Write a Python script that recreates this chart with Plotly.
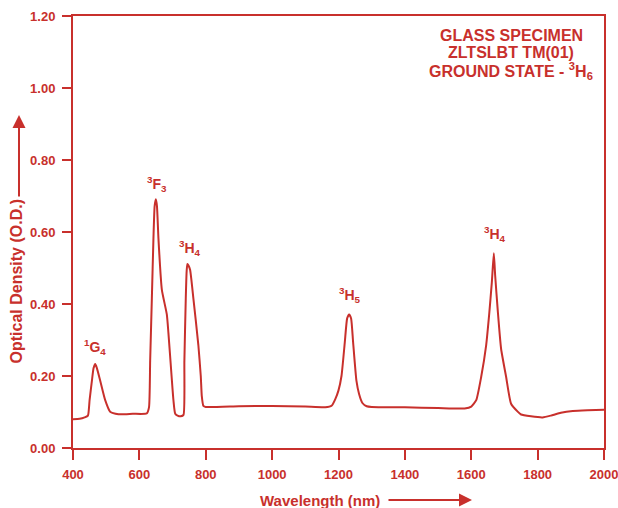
import plotly.graph_objects as go

# Data
wavelength = [400, 420, 435, 445, 450, 457, 462, 467, 472, 482, 497, 512, 537, 580, 622, 629,
              632.5, 637.6, 642.4, 646, 649.6, 653, 657.4, 667.7, 682.7, 687.5, 697, 702.6, 708, 715, 725, 733,
              735.6, 739.8, 742.5, 744.7, 748, 752.8, 762.8, 777.7, 785, 788, 793, 800,
              900, 1000, 1100, 1160, 1180, 1190, 1200, 1209, 1219, 1226, 1232, 1238, 1244, 1254, 1262, 1272, 1285, 1300,
              1400, 1500, 1580, 1600, 1615, 1630, 1645, 1654, 1662, 1668, 1672, 1680, 1690, 1705, 1720, 1740, 1750,
              1780, 1815, 1840, 1870, 1906, 1950, 2000]
optical_density = [0.080, 0.081, 0.085, 0.090, 0.133, 0.187, 0.222, 0.233, 0.222, 0.187, 0.133, 0.101, 0.094, 0.095, 0.096, 0.113,
                   0.242, 0.415, 0.583, 0.672, 0.691, 0.672, 0.583, 0.440, 0.371, 0.320, 0.200, 0.133, 0.095, 0.090, 0.088, 0.092,
                   0.242, 0.415, 0.492, 0.511, 0.507, 0.495, 0.415, 0.286, 0.200, 0.145, 0.117, 0.114,
                   0.116, 0.117, 0.115, 0.113, 0.118, 0.135, 0.160, 0.200, 0.294, 0.360, 0.371, 0.360, 0.294, 0.187, 0.150, 0.125, 0.116, 0.114,
                   0.113, 0.111, 0.110, 0.115, 0.133, 0.198, 0.286, 0.371, 0.460, 0.541, 0.480, 0.380, 0.275, 0.198, 0.123, 0.101, 0.093,
                   0.088, 0.085, 0.090, 0.098, 0.103, 0.105, 0.106]

peak_labels = ["<sup>1</sup>G<sub>4</sub>", "<sup>3</sup>F<sub>3</sub>", "<sup>3</sup>H<sub>4</sub>",
               "<sup>3</sup>H<sub>5</sub>", "<sup>3</sup>H<sub>4</sub>"]
peak_x = [467, 649.6, 744.7, 1232, 1668]
peak_y = [0.233, 0.691, 0.511, 0.371, 0.541]

x_ticks = [400, 600, 800, 1000, 1200, 1400, 1600, 1800, 2000]
y_ticks = [0.0, 0.2, 0.4, 0.6, 0.8, 1.0, 1.2]

RED = "#c8302c"
FONT = "Liberation Sans"

fig = go.Figure()
fig.add_trace(go.Scatter(x=wavelength, y=optical_density, mode="lines",
                         line=dict(color=RED, width=2, shape="spline", smoothing=0.5),
                         showlegend=False, hoverinfo="skip"))

label_shift = [17, 15, 16, 19, 19]
label_xshift = [0, 1, 3, 1, 1]
for t, px, py, ys, xs in zip(peak_labels, peak_x, peak_y, label_shift, label_xshift):
    fig.add_annotation(x=px, y=py, text=t, showarrow=False, yanchor="middle", xanchor="center",
                       yshift=ys, xshift=xs,
                       font=dict(family=FONT, size=14, color=RED, weight="bold"))

# Specimen text block
for txt, yy in [("GLASS SPECIMEN", 0.9549), ("ZLTSLBT TM(01)", 0.9155),
                ("GROUND STATE - <sup>3</sup>H<sub>6</sub>", 0.8727)]:
    fig.add_annotation(xref="paper", yref="paper", x=0.8249, y=yy, text=txt, showarrow=False,
                       xanchor="center", yanchor="middle",
                       font=dict(family=FONT, size=16, color=RED, weight="bold"))

# Axis titles with arrows
fig.add_annotation(xref="paper", yref="paper", x=0.4652, y=-0.1204, text="Wavelength (nm)",
                   showarrow=False, xanchor="center", yanchor="middle",
                   font=dict(family=FONT, size=15, color=RED, weight="bold"))
fig.add_annotation(xref="paper", yref="paper", x=0.7514, y=-0.1204, text="", showarrow=True,
                   ax=-85, ay=0, arrowhead=2, arrowsize=1.3, arrowwidth=2, arrowcolor=RED)
fig.add_annotation(xref="paper", yref="paper", x=-0.1055, y=0.3854, text="Optical Density (O.D.)",
                   showarrow=False, textangle=-90, xanchor="center", yanchor="middle",
                   font=dict(family=FONT, size=16, color=RED, weight="bold"))
fig.add_annotation(xref="paper", yref="paper", x=-0.1017, y=0.7708, text="", showarrow=True,
                   ax=0, ay=83, arrowhead=2, arrowsize=1.3, arrowwidth=2, arrowcolor=RED)

fig.update_xaxes(range=[400, 2000], tickvals=x_ticks, ticks="outside", ticklen=10, tickwidth=2,
                 tickcolor=RED, showline=True, linecolor=RED, linewidth=2, mirror=True,
                 showgrid=False, zeroline=False, ticklabelstandoff=3, automargin=False,
                 ticklabeloverflow="allow",
                 tickfont=dict(family=FONT, size=13, color=RED, weight="bold"))
fig.update_yaxes(range=[0, 1.2], tickvals=y_ticks, tickformat=".2f", ticks="outside", ticklen=9,
                 tickwidth=2, tickcolor=RED, showline=True, linecolor=RED, linewidth=2, mirror=True,
                 showgrid=False, zeroline=False, ticklabelstandoff=4, automargin=False,
                 ticklabeloverflow="allow",
                 tickfont=dict(family=FONT, size=13, color=RED, weight="bold"))

fig.update_layout(width=618, height=508, margin=dict(l=73, r=14, t=16, b=60, autoexpand=False),
                  plot_bgcolor="white", paper_bgcolor="white")

fig.write_html("out.html", config={"displayModeBar": False},
               post_script="document.body.style.margin='0';document.body.style.overflow='hidden';")
